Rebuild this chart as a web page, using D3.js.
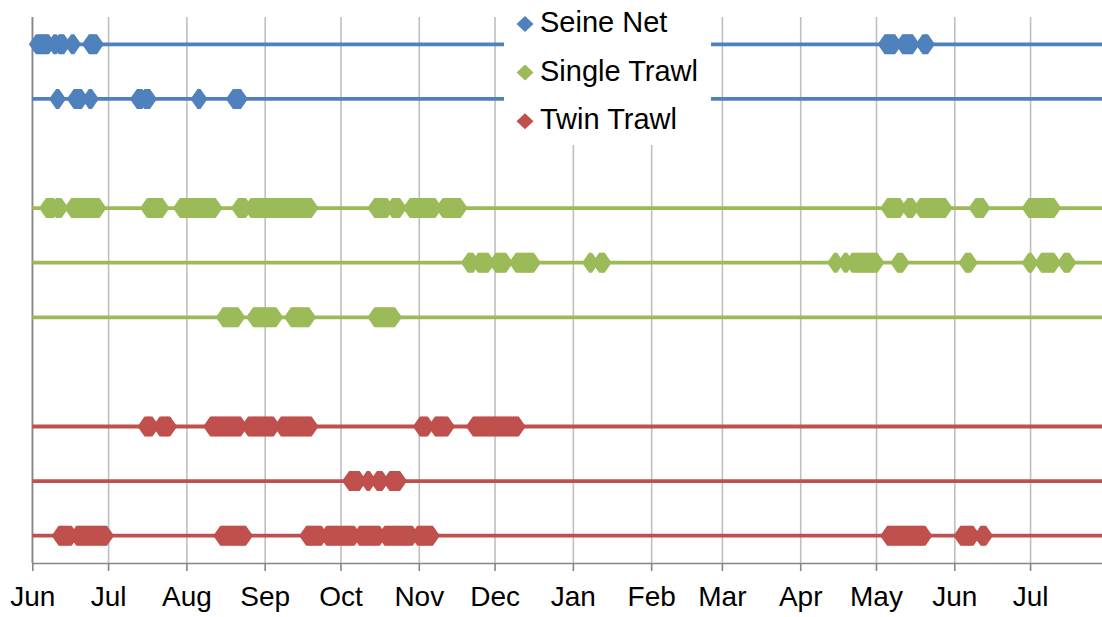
<!DOCTYPE html>
<html>
<head>
<meta charset="utf-8">
<script src="https://cdn.jsdelivr.net/npm/d3@7"></script>
<style>
  body { margin: 0; background: #fff; }
  svg { display: block; font-family: "Liberation Sans", Arial, sans-serif; }
</style>
</head>
<body>
<div id="cont"></div>
<script>
// fishing days per vessel, grouped as [month, [days]]
var seineNet1 = [
  ["2012-06", [3, 4, 5, 6, 7, 10, 12, 13, 17, 24, 25, 26]],
  ["2013-05", [5, 6, 7, 8, 12, 13, 14, 15, 20, 21]]
];
var seineNet2 = [
  ["2012-06", [11, 18, 19, 20, 24]],
  ["2012-07", [13, 14, 16, 17]],
  ["2012-08", [6, 20, 21, 22]]
];
var singleTrawl1 = [
  ["2012-06", [7, 8, 9, 11, 12, 17, 18, 19, 20, 21, 22, 23, 24, 25, 26, 27]],
  ["2012-07", [17, 18, 19, 20, 21, 22, 30, 31]],
  ["2012-08", [1, 2, 3, 4, 5, 6, 7, 8, 9, 10, 11, 12, 22, 23, 24, 27, 28, 29, 30, 31]],
  ["2012-09", [1, 2, 3, 4, 5, 6, 7, 8, 9, 10, 11, 12, 13, 14, 15, 16, 17, 18, 19]],
  ["2012-10", [15, 16, 17, 18, 19, 22, 23, 24, 29, 30, 31]],
  ["2012-11", [1, 2, 3, 4, 5, 6, 7, 11, 12, 13, 14, 15, 16, 17]],
  ["2013-05", [6, 7, 8, 9, 10, 14, 15, 19, 20, 21, 22, 23, 24, 25, 26, 27, 28]],
  ["2013-06", [10, 11, 12]],
  ["2013-07", [1, 2, 3, 4, 5, 6, 7, 8, 9, 10]]
];
var singleTrawl2 = [
  ["2012-11", [21, 22, 25, 26, 27, 28]],
  ["2012-12", [2, 3, 4, 5, 10, 11, 12, 13, 14, 15, 16]],
  ["2013-01", [8, 12, 13]],
  ["2013-04", [15, 19, 22, 23, 24, 25, 26, 27, 28, 29, 30]],
  ["2013-05", [1, 10, 11]],
  ["2013-06", [6, 7]],
  ["2013-07", [1, 6, 7, 8, 9, 10, 15, 16]]
];
var singleTrawl3 = [
  ["2012-08", [16, 17, 18, 19, 20, 21, 28, 29, 30, 31]],
  ["2012-09", [1, 2, 3, 4, 5, 12, 13, 14, 15, 16, 17, 18]],
  ["2012-10", [15, 16, 17, 18, 19, 20, 21, 22]]
];
var twinTrawl1 = [
  ["2012-07", [16, 17, 18, 22, 23, 24, 25]],
  ["2012-08", [11, 12, 13, 14, 15, 16, 17, 18, 19, 20, 21, 22, 26, 27, 28, 29, 30, 31]],
  ["2012-09", [1, 2, 3, 4, 8, 9, 10, 11, 12, 13, 14, 15, 16, 17, 18, 19]],
  ["2012-11", [2, 3, 4, 8, 9, 10, 11, 12, 23, 24, 25, 26, 27, 28, 29, 30]],
  ["2012-12", [1, 2, 3, 4, 5, 6, 7, 8, 9, 10]]
];
var twinTrawl2 = [
  ["2012-10", [5, 6, 7, 8, 12, 16, 17, 21, 22, 23, 24]]
];
var twinTrawl3 = [
  ["2012-06", [12, 13, 14, 15, 16, 19, 20, 21, 22, 23, 24, 25, 26, 27, 28, 29, 30]],
  ["2012-08", [15, 16, 17, 18, 19, 20, 21, 22, 23, 24]],
  ["2012-09", [18, 19, 20, 21, 22, 23, 26, 27, 28, 29, 30]],
  ["2012-10", [1, 2, 3, 4, 5, 6, 9, 10, 11, 12, 13, 14, 15, 16, 19, 20, 21, 22, 23, 24, 25, 26, 27, 28, 29]],
  ["2012-11", [1, 2, 3, 4, 5, 6]],
  ["2013-05", [6, 7, 8, 9, 10, 11, 12, 13, 14, 15, 16, 17, 18, 19, 20]],
  ["2013-06", [4, 5, 6, 7, 8, 12, 13]]
];

var gears = ["Seine Net", "Single Trawl", "Twin Trawl"];
var rowGear = ["Seine Net", "Seine Net", "Single Trawl", "Single Trawl", "Single Trawl",
  "Twin Trawl", "Twin Trawl", "Twin Trawl"];
var rowLevel = [10, 9, 7, 6, 5, 3, 2, 1];
var rowDays = [seineNet1, seineNet2, singleTrawl1, singleTrawl2, singleTrawl3,
  twinTrawl1, twinTrawl2, twinTrawl3];

var tickDates = ["2012-06-01", "2012-07-01", "2012-08-01", "2012-09-01", "2012-10-01",
  "2012-11-01", "2012-12-01", "2013-01-01", "2013-02-01", "2013-03-01", "2013-04-01",
  "2013-05-01", "2013-06-01", "2013-07-01"];
var tickLabels = ["Jun", "Jul", "Aug", "Sep", "Oct", "Nov", "Dec", "Jan", "Feb", "Mar",
  "Apr", "May", "Jun", "Jul"];
var axisStart = "2012-06-01", axisEnd = "2013-08-01";

function toDates(groups) {
  var out = [];
  groups.forEach(function(g) {
    g[1].forEach(function(day) {
      out.push(new Date(g[0] + "-" + String(day).padStart(2, "0") + "T00:00:00Z"));
    });
  });
  return out;
}

var W = 1102, H = 617;
var plotLeft = 32.3, plotTop = 17, plotBottom = 563;

var svg = d3.select("#cont").append("svg")
  .attr("width", W)
  .attr("height", H);

var start = new Date(axisStart + "T00:00:00Z"),
  end = new Date(axisEnd + "T00:00:00Z");
var nDays = d3.utcDay.count(start, end);

var xScale = d3.scaleUtc().domain([start, end]).range([plotLeft, plotLeft + nDays * 2.526]),
  yScale = d3.scaleLinear().domain([0.5, 10.5]).range([plotBottom, plotTop]);

var color = d3.scaleOrdinal().domain(gears).range(["#4f81bd", "#9bbb59", "#c0504d"]);

var ticks = tickDates.map(function(d) { return new Date(d + "T00:00:00Z"); });

// vertical gridlines
svg.append("g")
  .attr("class", "grid")
  .attr("transform", "translate(0," + plotBottom + ")")
  .call(d3.axisBottom(xScale)
    .tickValues(ticks)
    .tickSize(-(plotBottom - plotTop))
    .tickFormat("")
  )
  .call(function(g) {
    g.select(".domain").remove();
    g.selectAll("line").attr("stroke", "#bfbfbf").attr("stroke-width", 1.6);
  });

// x axis
svg.append("g")
  .attr("transform", "translate(0," + plotBottom + ")")
  .call(d3.axisBottom(xScale)
    .tickValues(ticks)
    .tickSize(8)
    .tickSizeOuter(0)
    .tickPadding(15)
    .tickFormat(function(d, i) { return tickLabels[i]; })
  )
  .call(function(g) {
    g.select(".domain").attr("stroke", "#868686").attr("stroke-width", 1.6);
    g.selectAll("line").attr("stroke", "#868686").attr("stroke-width", 1.6);
    g.selectAll("text")
      .attr("fill", "#000")
      .style("font-size", "28px")
      .style("font-family", "'Liberation Sans', Arial, sans-serif");
  });

// y axis line
svg.append("line")
  .attr("x1", plotLeft).attr("x2", plotLeft)
  .attr("y1", plotTop).attr("y2", plotBottom)
  .attr("stroke", "#868686")
  .attr("stroke-width", 1.6);

var line = d3.line()
  .x(function(d) { return xScale(d[0]); })
  .y(function(d) { return yScale(d[1]); });

var diamond = "M-8.5,0L-1.5,-10L1.5,-10L8.5,0L1.5,10L-1.5,10Z";

rowDays.forEach(function(days, i) {
  var c = color(rowGear[i]);
  svg.append("path")
    .attr("d", line([[start, rowLevel[i]], [end, rowLevel[i]]]))
    .attr("fill", "none")
    .attr("stroke", c)
    .attr("stroke-width", 3.8);

  svg.append("g").selectAll("path")
    .data(toDates(days))
    .enter().append("path")
    .attr("d", diamond)
    .attr("transform", function(d) {
      return "translate(" + xScale(d) + "," + yScale(rowLevel[i]) + ")";
    })
    .attr("fill", c);
});

// legend
var legend = svg.append("g");
legend.append("rect")
  .attr("x", 504).attr("y", 0)
  .attr("width", 207).attr("height", 145)
  .attr("fill", "#fff");

var item = legend.selectAll(".item")
  .data(gears)
  .enter().append("g")
  .attr("class", "item")
  .attr("transform", function(d, i) { return "translate(525," + (32 + i * 48.6) + ")"; });

item.append("path")
  .attr("d", "M-8.5,0L0,-8L8.5,0L0,8Z")
  .attr("transform", "translate(0,-8)")
  .attr("fill", function(d) { return color(d); });

item.append("text")
  .attr("x", 15)
  .attr("y", 0)
  .style("font-size", "29px")
  .text(function(d) { return d; });
</script>
</body>
</html>
